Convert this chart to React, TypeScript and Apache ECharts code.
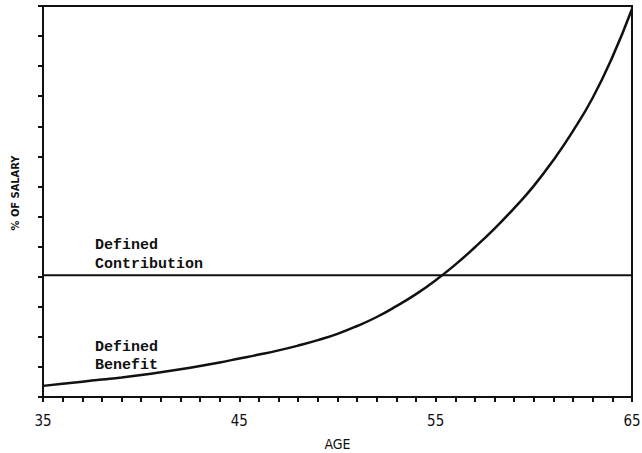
import React, { useEffect, useRef } from "react";
import * as echarts from "echarts";

const ages = [35, 36, 37, 38, 39, 40, 41, 42, 43, 44, 45, 46, 47, 48, 49, 50, 51, 52, 53, 54, 55, 56, 57, 58, 59, 60, 61, 62, 63, 64, 65];
const definedBenefit = [0.37, 0.44, 0.51, 0.58, 0.65, 0.73, 0.82, 0.92, 1.03, 1.15, 1.28, 1.41, 1.55, 1.71, 1.89, 2.1, 2.36, 2.66, 3.02, 3.42, 3.88, 4.4, 4.98, 5.6, 6.28, 7.02, 7.88, 8.85, 9.95, 11.3, 12.9];
const contributionAges = [35, 65];
const definedContribution = [4.05, 4.05];
const xTickLabels = ["35", "45", "55", "65"];

export default function App() {
  const ref = useRef<HTMLDivElement>(null);
  useEffect(() => {
    if (!ref.current) return;
    const chart = echarts.init(ref.current, null, { renderer: "svg" });
    const ink = "#111";
    const labelFont = "'DejaVu Sans Condensed', 'DejaVu Sans', sans-serif";
    const monoFont = "'Liberation Mono', 'DejaVu Sans Mono', monospace";
    chart.setOption({
      animation: false,
      backgroundColor: "#fff",
      grid: {
        left: 43,
        right: 10,
        top: 6,
        bottom: 56,
        containLabel: false,
        outerBoundsMode: "none",
        show: true,
        borderColor: ink,
        borderWidth: 2,
      },
      xAxis: {
        type: "value",
        min: 35,
        max: 65,
        interval: 1,
        name: "AGE",
        nameLocation: "middle",
        nameGap: 40,
        nameTextStyle: { color: ink, fontSize: 14, fontFamily: labelFont },
        axisLine: { show: true, onZero: false, lineStyle: { color: ink, width: 2 } },
        axisTick: { show: true, inside: false, interval: 0, length: 5, lineStyle: { color: ink, width: 2 } },
        splitLine: { show: false },
        axisLabel: {
          color: ink,
          fontSize: 15,
          fontFamily: labelFont,
          margin: 16,
          interval: 0,
          formatter: (v: number) => (xTickLabels.includes(String(v)) ? String(v) : ""),
        },
      },
      yAxis: {
        type: "value",
        min: 0,
        max: 13,
        interval: 1,
        axisLine: { show: true, lineStyle: { color: ink, width: 2 } },
        axisTick: { show: true, inside: false, length: 5, lineStyle: { color: ink, width: 2 } },
        splitLine: { show: false },
        axisLabel: { show: false },
      },
      series: [
        {
          name: "Defined Benefit",
          type: "line",
          data: ages.map((a, i) => [a, definedBenefit[i]]),
          smooth: 0.5,
          showSymbol: false,
          lineStyle: { color: ink, width: 2.5 },
          silent: true,
        },
        {
          name: "Defined Contribution",
          type: "line",
          data: contributionAges.map((a, i) => [a, definedContribution[i]]),
          showSymbol: false,
          lineStyle: { color: ink, width: 2 },
          silent: true,
        },
      ],
      graphic: [
        {
          type: "text",
          x: 15,
          y: 193,
          rotation: Math.PI / 2,
          style: {
            text: "% OF SALARY",
            fill: ink,
            font: `bold 11px ${labelFont}`,
            align: "center",
            verticalAlign: "middle",
          },
        },
        {
          type: "text",
          x: 95,
          y: 245,
          style: { text: "Defined", fill: ink, font: `bold 15px ${monoFont}`, verticalAlign: "middle" },
        },
        {
          type: "text",
          x: 95,
          y: 264,
          style: { text: "Contribution", fill: ink, font: `bold 15px ${monoFont}`, verticalAlign: "middle" },
        },
        {
          type: "text",
          x: 95,
          y: 347,
          style: { text: "Defined", fill: ink, font: `bold 15px ${monoFont}`, verticalAlign: "middle" },
        },
        {
          type: "text",
          x: 95,
          y: 365,
          style: { text: "Benefit", fill: ink, font: `bold 15px ${monoFont}`, verticalAlign: "middle" },
        },
      ],
    });
    return () => chart.dispose();
  }, []);
  return <div ref={ref} style={{ position: "fixed", left: 0, top: 0, width: 642, height: 453 }} />;
}
